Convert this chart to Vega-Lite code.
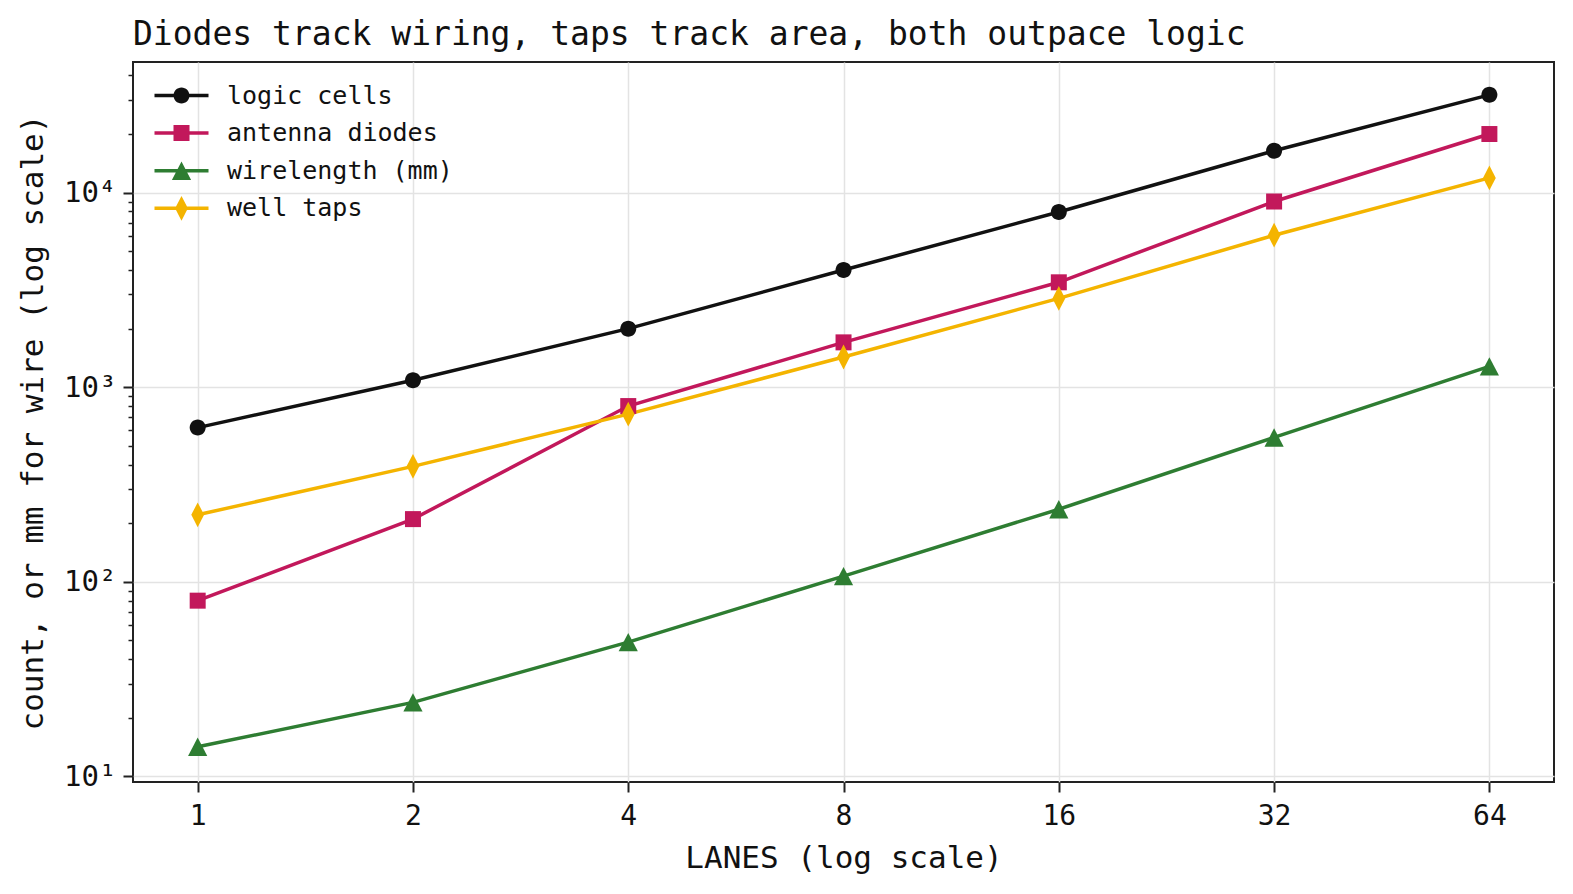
{
  "$schema": "https://vega.github.io/schema/vega-lite/v6.json",
  "width": 1421,
  "height": 720,
  "autosize": "none",
  "padding": {"left": 133, "top": 62, "right": 19, "bottom": 112},
  "background": "white",
  "config": {
    "font": "DejaVu Sans Mono",
    "view": {"stroke": "#222222", "strokeWidth": 2},
    "axis": {"labelFont": "DejaVu Sans Mono", "titleFont": "DejaVu Sans Mono", "labelColor": "#111111", "titleColor": "#111111", "titleFontWeight": "normal", "tickColor": "#222222", "gridColor": "#e3e3e3", "gridWidth": 1.5, "domain": false}
  },
  "title": {"text": "Diodes track wiring, taps track area, both outpace logic", "anchor": "start", "frame": "group", "font": "DejaVu Sans Mono", "fontSize": 33, "fontWeight": "normal", "color": "#111111", "baseline": "bottom", "offset": 10, "dy": 33},
  "data": {"values": [
    {"lanes": 1, "series": "logic cells", "value": 620},
    {"lanes": 2, "series": "logic cells", "value": 1085},
    {"lanes": 4, "series": "logic cells", "value": 2000},
    {"lanes": 8, "series": "logic cells", "value": 4000},
    {"lanes": 16, "series": "logic cells", "value": 7950},
    {"lanes": 32, "series": "logic cells", "value": 16400},
    {"lanes": 64, "series": "logic cells", "value": 31800},
    {"lanes": 1, "series": "antenna diodes", "value": 80},
    {"lanes": 2, "series": "antenna diodes", "value": 210},
    {"lanes": 4, "series": "antenna diodes", "value": 800},
    {"lanes": 8, "series": "antenna diodes", "value": 1700},
    {"lanes": 16, "series": "antenna diodes", "value": 3460},
    {"lanes": 32, "series": "antenna diodes", "value": 9000},
    {"lanes": 64, "series": "antenna diodes", "value": 20000},
    {"lanes": 1, "series": "wirelength (mm)", "value": 14.2},
    {"lanes": 2, "series": "wirelength (mm)", "value": 24},
    {"lanes": 4, "series": "wirelength (mm)", "value": 49},
    {"lanes": 8, "series": "wirelength (mm)", "value": 107},
    {"lanes": 16, "series": "wirelength (mm)", "value": 236},
    {"lanes": 32, "series": "wirelength (mm)", "value": 552},
    {"lanes": 64, "series": "wirelength (mm)", "value": 1280},
    {"lanes": 1, "series": "well taps", "value": 221},
    {"lanes": 2, "series": "well taps", "value": 392},
    {"lanes": 4, "series": "well taps", "value": 727},
    {"lanes": 8, "series": "well taps", "value": 1430},
    {"lanes": 16, "series": "well taps", "value": 2860},
    {"lanes": 32, "series": "well taps", "value": 6040},
    {"lanes": 64, "series": "well taps", "value": 11900}
  ]},
  "encoding": {
    "x": {"field": "lanes", "type": "quantitative",
      "scale": {"type": "log", "base": 2, "domain": [0.812, 78.8], "nice": false},
      "axis": {"title": "LANES (log scale)", "values": [1, 2, 4, 8, 16, 32, 64], "format": "d", "labelFontSize": 28, "titleFontSize": 31, "tickSize": 10, "tickWidth": 2, "labelPadding": 10, "titlePadding": 13, "labelFlush": false}},
    "y": {"field": "value", "type": "quantitative",
      "scale": {"type": "log", "domain": [9.36, 46900], "nice": false},
      "axis": {"title": "count, or mm for wire (log scale)",
        "values": [10, 20, 30, 40, 50, 60, 70, 80, 90, 100, 200, 300, 400, 500, 600, 700, 800, 900, 1000, 2000, 3000, 4000, 5000, 6000, 7000, 8000, 9000, 10000, 20000, 30000, 40000],
        "labelExpr": "datum.value == 10 ? '10¹' : datum.value == 100 ? '10²' : datum.value == 1000 ? '10³' : datum.value == 10000 ? '10⁴' : ''",
        "labelFontSize": 29, "titleFontSize": 31, "labelPadding": 7, "titlePadding": 14, "labelFlush": false,
        "tickSize": {"condition": {"test": "indexof([10, 100, 1000, 10000], datum.value) >= 0", "value": 10}, "value": 5},
        "tickWidth": {"condition": {"test": "indexof([10, 100, 1000, 10000], datum.value) >= 0", "value": 2}, "value": 1.5},
        "gridOpacity": {"condition": {"test": "indexof([10, 100, 1000, 10000], datum.value) >= 0", "value": 1}, "value": 0}}},
    "color": {"field": "series", "type": "nominal",
      "scale": {"domain": ["logic cells", "antenna diodes", "wirelength (mm)", "well taps"], "range": ["#111111", "#c2185b", "#2e7d32", "#f4b400"]},
      "legend": {"orient": "none", "legendX": 36, "legendY": 21, "title": null, "padding": 0,
        "labelFont": "DejaVu Sans Mono", "labelFontSize": 25, "labelColor": "#111111", "labelOffset": 33, "labelLimit": 500, "rowPadding": 11.6, "symbolSize": 256,
        "encode": {"symbols": {"update": {
          "shape": {"signal": "datum.value === 'logic cells' ? 'M-3.375,-0.22H3.375V0.22H-3.375Z M1,0A1,1 0 1,1 -1,0A1,1 0 1,1 1,0Z' : datum.value === 'antenna diodes' ? 'M-3.375,-0.22H3.375V0.22H-3.375Z M-1,-1H1V1H-1Z' : datum.value === 'wirelength (mm)' ? 'M-3.375,-0.22H3.375V0.22H-3.375Z M0,-1.15L1.2,1.15L-1.2,1.15Z' : 'M-3.375,-0.22H3.375V0.22H-3.375Z M0,-1.55L0.8,0L0,1.55L-0.8,0Z'"},
          "fill": {"signal": "scale('color', datum.value)"},
          "stroke": {"value": "transparent"},
          "strokeWidth": {"value": 0},
          "opacity": {"value": 1},
          "size": {"value": 256}
        }}}}}
  },
  "layer": [
    {"mark": {"type": "line", "strokeWidth": 3.5}},
    {"transform": [{"filter": "datum.series === 'logic cells'"}],
      "mark": {"type": "point", "filled": true, "opacity": 1, "size": 256, "strokeWidth": 0, "shape": "M1,0A1,1 0 1,1 -1,0A1,1 0 1,1 1,0Z"}},
    {"transform": [{"filter": "datum.series === 'antenna diodes'"}],
      "mark": {"type": "point", "filled": true, "opacity": 1, "size": 256, "strokeWidth": 0, "shape": "M-1,-1H1V1H-1Z"}},
    {"transform": [{"filter": "datum.series === 'wirelength (mm)'"}],
      "mark": {"type": "point", "filled": true, "opacity": 1, "size": 256, "strokeWidth": 0, "shape": "M0,-1.15L1.2,1.15L-1.2,1.15Z"}},
    {"transform": [{"filter": "datum.series === 'well taps'"}],
      "mark": {"type": "point", "filled": true, "opacity": 1, "size": 256, "strokeWidth": 0, "shape": "M0,-1.55L0.8,0L0,1.55L-0.8,0Z"}}
  ]
}
